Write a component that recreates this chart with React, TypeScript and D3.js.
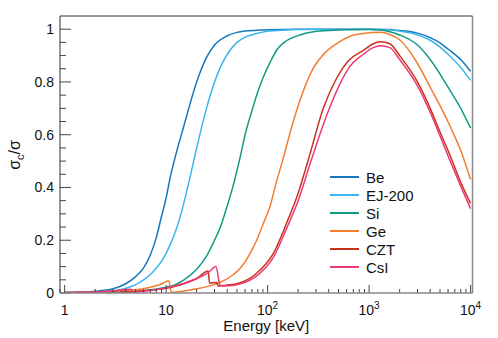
import React from 'react';
import * as d3 from 'd3';

// energy [keV], sigma_c / sigma
const beData: [number, number][] = [
  [1, 0.002], [2, 0.007], [3, 0.016], [4, 0.035], [5, 0.062], [6, 0.095], [7, 0.145], [8, 0.21],
  [9, 0.29], [10, 0.36], [11, 0.44], [12, 0.5], [15, 0.635], [20, 0.8], [25, 0.893], [30, 0.94], [40, 0.975],
  [50, 0.988], [60, 0.993], [80, 0.996], [100, 0.998], [200, 1], [500, 1], [1000, 1], [1500, 0.999],
  [2000, 0.995], [3000, 0.985], [4000, 0.968], [5000, 0.948], [6000, 0.925], [8000, 0.885], [10000, 0.84],
];

const ej200Data: [number, number][] = [
  [1, 0.001], [2, 0.003], [3, 0.008], [4, 0.018], [5, 0.032], [6, 0.05], [7, 0.07], [8, 0.095],
  [9, 0.12], [10, 0.15], [11, 0.185], [12, 0.22], [14, 0.3], [17, 0.43], [20, 0.55], [25, 0.7], [30, 0.8],
  [40, 0.905], [50, 0.95], [60, 0.97], [80, 0.985], [100, 0.992], [150, 0.997], [200, 0.999], [1000, 1],
  [1500, 0.998], [2000, 0.993], [3000, 0.978], [4000, 0.958], [5000, 0.932], [6000, 0.905], [8000, 0.855], [10000, 0.806],
];

const siData: [number, number][] = [
  [1, 0.0005], [2, 0.001], [3, 0.002], [5, 0.006], [7, 0.012], [10, 0.022], [12, 0.03], [15, 0.05],
  [20, 0.09], [25, 0.14], [30, 0.2], [35, 0.26], [40, 0.33], [46, 0.41], [54, 0.52], [60, 0.6],
  [70, 0.69], [78, 0.75], [90, 0.815], [106, 0.875], [125, 0.925], [148, 0.952], [212, 0.979], [355, 0.994],
  [700, 0.998], [1000, 0.999], [1300, 0.997], [1600, 0.99], [2000, 0.978], [3000, 0.94], [4000, 0.885],
  [5000, 0.83], [6000, 0.78], [8000, 0.7], [10000, 0.625],
];

const geData: [number, number][] = [
  [1, 0.002], [2, 0.004], [3, 0.007], [5, 0.012], [7, 0.022], [9, 0.034], [10.6, 0.046], [11.3, 0.003],
  [15, 0.008], [20, 0.016], [27, 0.027], [35, 0.042], [46, 0.07], [54, 0.095], [65, 0.14], [78, 0.2],
  [90, 0.26], [106, 0.33], [120, 0.41], [140, 0.5], [170, 0.62], [200, 0.71], [283, 0.853], [380, 0.916],
  [500, 0.95], [650, 0.973], [850, 0.983], [1100, 0.987], [1300, 0.988], [1600, 0.98], [2000, 0.96], [3000, 0.87],
  [4000, 0.78], [5000, 0.71], [6500, 0.62], [8000, 0.54], [10000, 0.43],
];

const cztData: [number, number][] = [
  [1, 0.002], [2, 0.004], [3, 0.007], [3.5, 0.01], [3.7, 0.004], [5, 0.006], [7, 0.01], [10, 0.018],
  [15, 0.035], [20, 0.055], [26, 0.083], [26.8, 0.037], [31.5, 0.04], [32.5, 0.027], [40, 0.03], [54, 0.039],
  [78, 0.075], [114, 0.15], [154, 0.265], [200, 0.378], [252, 0.505], [354, 0.7], [480, 0.815], [625, 0.88],
  [880, 0.92], [1100, 0.945], [1300, 0.952], [1600, 0.945], [2000, 0.9], [3000, 0.8], [4000, 0.7], [5000, 0.61],
  [6300, 0.52], [8000, 0.42], [10000, 0.34],
];

const csiData: [number, number][] = [
  [1, 0.002], [2, 0.004], [3, 0.008], [4.5, 0.014], [4.8, 0.003], [6, 0.007], [10, 0.019], [15, 0.037],
  [20, 0.055], [26, 0.077], [31, 0.1], [34, 0.03], [36, 0.027], [45, 0.028], [54, 0.035], [80, 0.068],
  [114, 0.135], [154, 0.245], [200, 0.35], [270, 0.505], [395, 0.688], [540, 0.808], [650, 0.86], [880, 0.905],
  [1100, 0.93], [1300, 0.937], [1600, 0.93], [2000, 0.885], [3000, 0.785], [4000, 0.685], [5000, 0.595],
  [6300, 0.5], [8000, 0.405], [10000, 0.32],
];

const seriesNames = ['Be', 'EJ-200', 'Si', 'Ge', 'CZT', 'CsI'];
const seriesColors = ['#1577be', '#3bb6ec', '#139a85', '#f47d30', '#c8321a', '#ec3a78'];
const seriesData = [beData, ej200Data, siData, geData, cztData, csiData];

const yTickValues = [0, 0.2, 0.4, 0.6, 0.8, 1];
const xExponents = [0, 1, 2, 3, 4];

const W = 498;
const H = 338;
const FONT = '"Liberation Sans", Arial, Helvetica, sans-serif';

export default function App() {
  const x = d3.scaleLog().domain([0.9, 10450]).range([60, 472.5]);
  const y = d3.scaleLinear().domain([0, 1.05]).range([293, 16]);

  const line = d3.line<[number, number]>()
    .x(d => x(d[0]))
    .y(d => y(d[1]))
    .curve(d3.curveMonotoneX);

  const xTicks = x.ticks();
  const yMinor = d3.range(0, 1.0001, 0.05);

  const [x0, x1] = x.range();
  const [yb, yt] = y.range();

  return (
    <svg width={W} height={H} style={{ position: 'absolute', left: 0, top: 0, background: '#fff' }}
      fontFamily={FONT}>
      <rect x={0} y={0} width={W} height={H} fill="#fff" />

      <defs>
        <clipPath id="plot">
          <rect x={x0} y={yt} width={x1 - x0} height={yb - yt} />
        </clipPath>
      </defs>

      {/* curves */}
      <g clipPath="url(#plot)">
        {seriesData.map((d, i) => (
          <path key={seriesNames[i]} d={line(d) || ''} fill="none" stroke={seriesColors[i]}
            strokeWidth={1.5} strokeLinejoin="round" />
        ))}
      </g>

      {/* x ticks */}
      {xTicks.map((t, i) => {
        const major = Math.abs(Math.log10(t) - Math.round(Math.log10(t))) < 1e-9;
        return (
          <line key={'xt' + i} x1={x(t)} x2={x(t)} y1={yb} y2={yb - (major ? 8 : 4)}
            stroke="#444" strokeWidth={1} />
        );
      })}

      {/* y ticks */}
      {yMinor.map((t, i) => {
        const major = i % 4 === 0;
        return (
          <line key={'yt' + i} x1={x0} x2={x0 + (major ? 11 : 6)} y1={y(t)} y2={y(t)}
            stroke="#444" strokeWidth={1} />
        );
      })}

      {/* frame */}
      <line x1={x0} x2={x1} y1={yt} y2={yt} stroke="#333" strokeWidth={1} />
      <line x1={x0} x2={x0} y1={yt} y2={yb} stroke="#333" strokeWidth={1} />
      <line x1={x1} x2={x1} y1={yt} y2={yb} stroke="#888" strokeWidth={1.5} />
      <line x1={x0} x2={x1} y1={yb} y2={yb} stroke="#888" strokeWidth={1.5} />

      {/* y tick labels */}
      {yTickValues.map(t => (
        <text key={'yl' + t} x={54} y={y(t) + 5} textAnchor="end" fontSize={14} fill="#111">
          {t === 0 || t === 1 ? String(t) : t.toFixed(1)}
        </text>
      ))}

      {/* x tick labels */}
      {xExponents.map(e => {
        const px = x(Math.pow(10, e));
        if (e === 0) return <text key="xl0" x={px} y={315} textAnchor="middle" fontSize={14} fill="#111">1</text>;
        if (e === 1) return <text key="xl1" x={px} y={315} textAnchor="middle" fontSize={14} fill="#111">10</text>;
        return (
          <text key={'xl' + e} x={px} y={315} textAnchor="middle" fontSize={14} fill="#111">
            10<tspan fontSize={10} dy={-6}>{e}</tspan>
          </text>
        );
      })}

      {/* axis titles */}
      <text x={(x0 + x1) / 2} y={331} textAnchor="middle" fontSize={15} fill="#111">Energy [keV]</text>
      <text transform={`translate(20,155) rotate(-90)`} textAnchor="middle" fontSize={16} fill="#111">
        σ<tspan fontSize={11} dy={4}>c</tspan><tspan dy={-4}>/σ</tspan>
      </text>

      {/* legend */}
      {seriesNames.map((n, i) => {
        const ly = 177 + i * 18;
        return (
          <g key={'lg' + n}>
            <line x1={330} x2={359} y1={ly} y2={ly} stroke={seriesColors[i]} strokeWidth={2} />
            <text x={366} y={ly + 5.5} fontSize={15} fill="#111">{n}</text>
          </g>
        );
      })}
    </svg>
  );
}
